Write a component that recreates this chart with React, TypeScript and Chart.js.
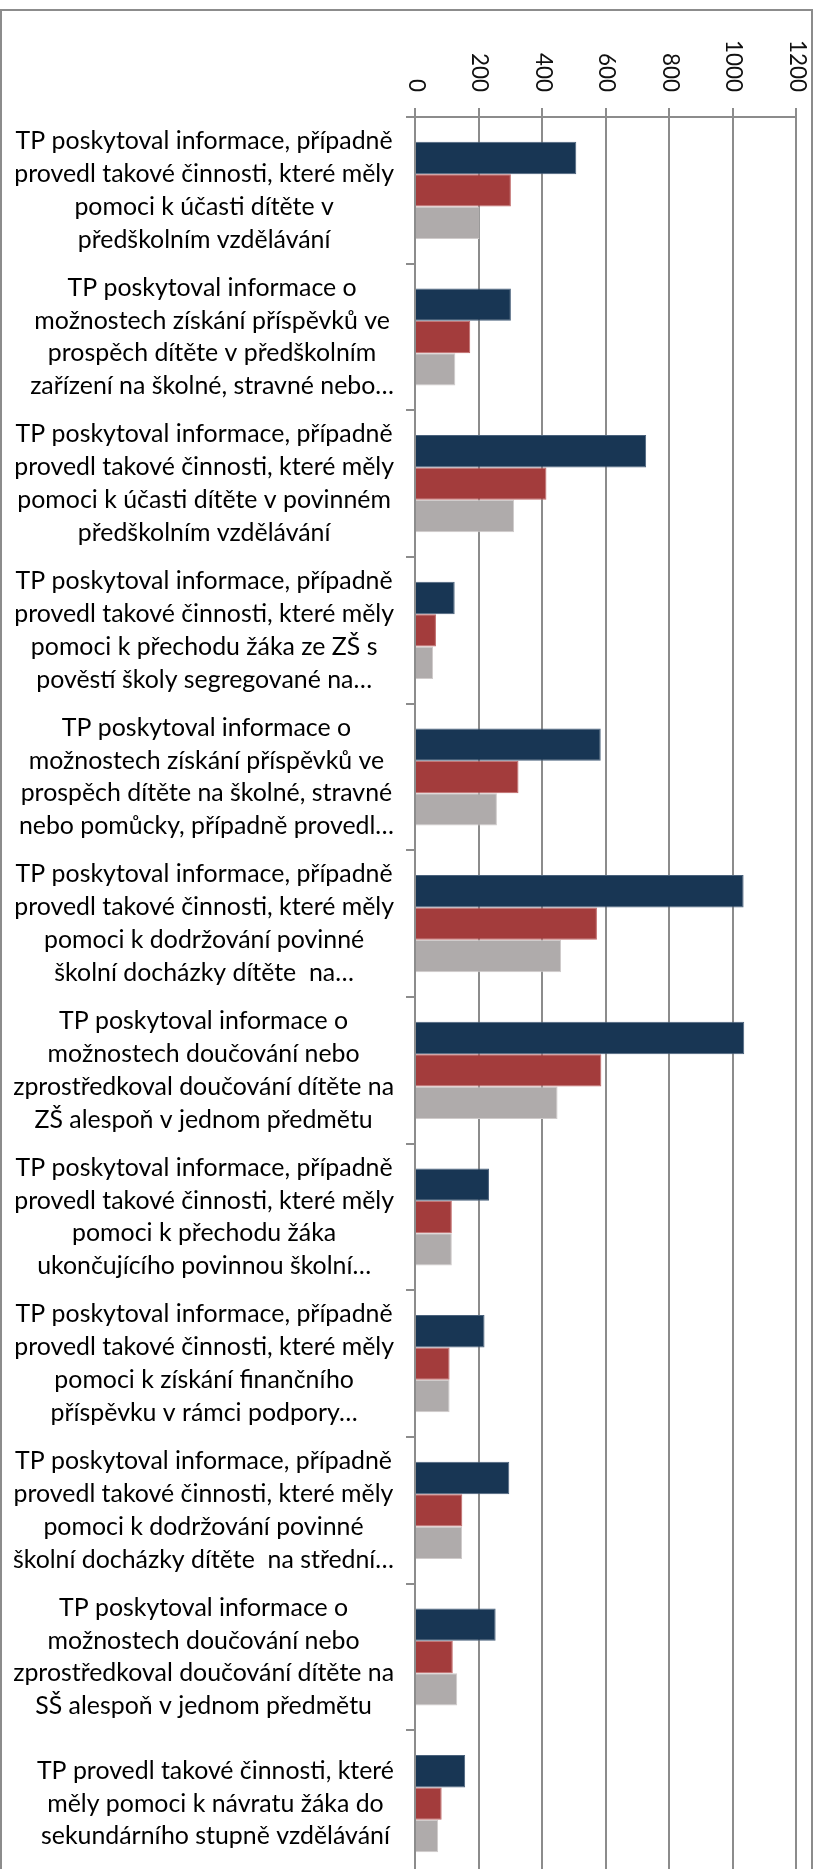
import React, { useEffect, useRef } from "react";
import { Chart, registerables } from "chart.js";

Chart.register(...registerables);

const CATEGORIES: string[][] = [
  ["TP poskytoval informace, případně", "provedl takové činnosti, které měly", "pomoci k účasti dítěte v", "předškolním vzdělávání"],
  ["TP poskytoval informace o", "možnostech získání příspěvků ve", "prospěch dítěte v předškolním", "zařízení na školné, stravné nebo…"],
  ["TP poskytoval informace, případně", "provedl takové činnosti, které měly", "pomoci k účasti dítěte v povinném", "předškolním vzdělávání"],
  ["TP poskytoval informace, případně", "provedl takové činnosti, které měly", "pomoci k přechodu žáka ze ZŠ s", "pověstí školy segregované na…"],
  ["TP poskytoval informace o", "možnostech získání příspěvků ve", "prospěch dítěte na školné, stravné", "nebo pomůcky, případně provedl…"],
  ["TP poskytoval informace, případně", "provedl takové činnosti, které měly", "pomoci k dodržování povinné", "školní docházky dítěte  na…"],
  ["TP poskytoval informace o", "možnostech doučování nebo", "zprostředkoval doučování dítěte na", "ZŠ alespoň v jednom předmětu"],
  ["TP poskytoval informace, případně", "provedl takové činnosti, které měly", "pomoci k přechodu žáka", "ukončujícího povinnou školní…"],
  ["TP poskytoval informace, případně", "provedl takové činnosti, které měly", "pomoci k získání finančního", "příspěvku v rámci podpory…"],
  ["TP poskytoval informace, případně", "provedl takové činnosti, které měly", "pomoci k dodržování povinné", "školní docházky dítěte  na střední…"],
  ["TP poskytoval informace o", "možnostech doučování nebo", "zprostředkoval doučování dítěte na", "SŠ alespoň v jednom předmětu"],
  ["TP provedl takové činnosti, které", "měly pomoci k návratu žáka do", "sekundárního stupně vzdělávání"],
];

const SERIES_1 = [508, 302, 728, 125, 585, 1035, 1037, 233, 219, 297, 254, 158];
const SERIES_2 = [302, 174, 414, 66, 326, 573, 587, 116, 109, 149, 119, 84];
const SERIES_3 = [203, 127, 312, 57, 258, 460, 449, 116, 109, 148, 133, 73];

const X_TICKS = [0, 200, 400, 600, 800, 1000, 1200];

const FONT_FAMILY = "Lato, 'Noto Sans', sans-serif";
const GRID_COLOR = "#8c8c8c";

export default function App() {
  const canvasRef = useRef<HTMLCanvasElement | null>(null);

  useEffect(() => {
    const canvas = canvasRef.current;
    if (!canvas) return;

    const mctx = document.createElement("canvas").getContext("2d")!;
    mctx.font = `100px ${FONT_FAMILY}`;
    const refW = mctx.measureText("provedl takové činnosti, které měly").width;
    const catSize = (100 * 380) / refW;
    const numW = mctx.measureText("1200").width;
    const tickSize = (100 * 52) / numW;
    const lineH = 32.8;

    const axisRight = 415;
    const tickLen = 9;
    const labelRight = 394;

    const xTickLabels = {
      id: "xTickLabels",
      afterDraw(chart: any) {
        const scale = chart.scales.x;
        const ctx = chart.ctx;
        ctx.save();
        ctx.font = `${tickSize}px ${FONT_FAMILY}`;
        ctx.fillStyle = "#111";
        ctx.textAlign = "right";
        ctx.textBaseline = "middle";
        const yEnd = scale.bottom - tickLen - 16;
        scale.ticks.forEach((t: any) => {
          const x = scale.getPixelForValue(t.value);
          ctx.save();
          ctx.translate(x + 1, yEnd);
          ctx.rotate(Math.PI / 2);
          ctx.fillText(String(t.value), 0, 0);
          ctx.restore();
        });
        ctx.restore();
      },
    };

    const yCategoryLabels = {
      id: "yCategoryLabels",
      afterDraw(chart: any) {
        const scale = chart.scales.y;
        const ctx = chart.ctx;
        ctx.save();
        ctx.font = `${catSize}px ${FONT_FAMILY}`;
        ctx.fillStyle = "#000";
        ctx.textAlign = "center";
        ctx.textBaseline = "middle";
        const labels: string[][] = chart.data.labels;
        labels.forEach((lines, i) => {
          const yc = scale.getPixelForTick(i);
          let w = 0;
          lines.forEach((l) => (w = Math.max(w, ctx.measureText(l).width)));
          const xc = labelRight - w / 2;
          const n = lines.length;
          lines.forEach((l, j) => {
            ctx.fillText(l, xc, yc + (j - (n - 1) / 2) * lineH);
          });
        });
        ctx.restore();
      },
    };

    const chart = new Chart(canvas, {
      type: "bar",
      data: {
        labels: CATEGORIES,
        datasets: [
          { label: "Řada 1", data: SERIES_1, backgroundColor: "#183654", borderColor: "#4a627c", borderWidth: 1 },
          { label: "Řada 2", data: SERIES_2, backgroundColor: "#a33c3c", borderColor: "#c06868", borderWidth: 1 },
          { label: "Řada 3", data: SERIES_3, backgroundColor: "#afabab", borderColor: "#cfcbcb", borderWidth: 1 },
        ],
      },
      options: {
        indexAxis: "y",
        responsive: false,
        animation: false,
        maintainAspectRatio: false,
        layout: { padding: { top: 0, left: 0, right: 23, bottom: 23 } },
        plugins: { legend: { display: false }, tooltip: { enabled: false } },
        datasets: { bar: { categoryPercentage: 0.663, barPercentage: 1.0 } },
        scales: {
          x: {
            position: "top",
            min: 0,
            max: 1200,
            afterBuildTicks: (scale: any) => {
              scale.ticks = X_TICKS.map((v) => ({ value: v }));
            },
            afterFit: (scale: any) => {
              scale.height = 117;
              scale.paddingLeft = 0;
              scale.paddingRight = 0;
            },
            grid: { color: GRID_COLOR, lineWidth: 2, drawTicks: true, tickLength: tickLen, tickColor: GRID_COLOR },
            border: { display: true, color: GRID_COLOR, width: 2 },
            ticks: { display: false },
          },
          y: {
            position: "left",
            afterFit: (scale: any) => {
              scale.width = axisRight;
              scale.paddingTop = 0;
              scale.paddingBottom = 0;
            },
            grid: { drawOnChartArea: false, drawTicks: true, tickLength: tickLen, color: GRID_COLOR, lineWidth: 2, offset: true },
            border: { display: true, color: GRID_COLOR, width: 2 },
            ticks: { display: false, autoSkip: false },
          },
        },
      },
      plugins: [xTickLabels, yCategoryLabels],
    });

    return () => chart.destroy();
  }, []);

  return (
    <div style={{ position: "absolute", left: 0, top: 0, width: 819, height: 1869, overflow: "hidden", background: "#fff" }}>
      <div
        style={{
          position: "absolute",
          left: 0,
          top: 9,
          width: 813,
          height: 1900,
          border: "2px solid #8c8c8c",
          boxSizing: "border-box",
        }}
      />
      <canvas
        ref={canvasRef}
        width={819}
        height={1900}
        style={{ position: "absolute", left: 0, top: 0, width: 819, height: 1900 }}
      />
    </div>
  );
}
